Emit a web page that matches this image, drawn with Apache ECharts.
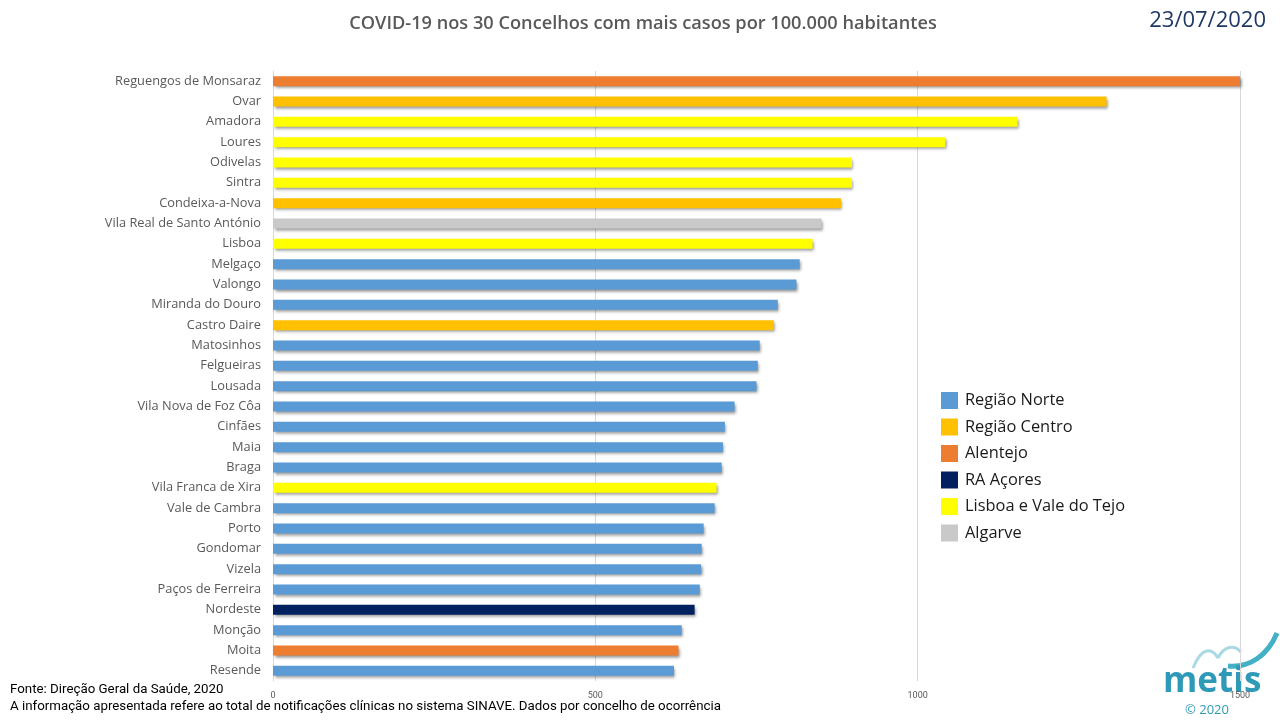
<!DOCTYPE html>
<html>
<head>
<meta charset="utf-8">
<script src="https://cdn.jsdelivr.net/npm/echarts@6/dist/echarts.min.js"></script>
<style>
html,body{margin:0;padding:0;background:#fff;}
#chart{width:1280px;height:720px;}
</style>
</head>
<body>
<div id="chart"></div>
<script>
const categories = ["Reguengos de Monsaraz","Ovar","Amadora","Loures","Odivelas","Sintra","Condeixa-a-Nova","Vila Real de Santo António","Lisboa","Melgaço","Valongo","Miranda do Douro","Castro Daire","Matosinhos","Felgueiras","Lousada","Vila Nova de Foz Côa","Cinfães","Maia","Braga","Vila Franca de Xira","Vale de Cambra","Porto","Gondomar","Vizela","Paços de Ferreira","Nordeste","Monção","Moita","Resende"];
const values = [1502,1293,1155,1043,898,898,881,851,837,817,812,783,777,755,752,750,716,701,698,696,688,685,668,665,664,662,654,634,629,622];
const regions = ["Alentejo","Região Centro","Lisboa e Vale do Tejo","Lisboa e Vale do Tejo","Lisboa e Vale do Tejo","Lisboa e Vale do Tejo","Região Centro","Algarve","Lisboa e Vale do Tejo","Região Norte","Região Norte","Região Norte","Região Centro","Região Norte","Região Norte","Região Norte","Região Norte","Região Norte","Região Norte","Região Norte","Lisboa e Vale do Tejo","Região Norte","Região Norte","Região Norte","Região Norte","Região Norte","RA Açores","Região Norte","Alentejo","Região Norte"];
const regionNames = ["Região Norte","Região Centro","Alentejo","RA Açores","Lisboa e Vale do Tejo","Algarve"];
const regionColors = ["#5b9bd5","#ffc000","#ed7d31","#002060","#ffff00","#c9c9c9"];
const xTicks = [0,500,1000,1500];

const series = regionNames.map((r,i)=>({
  name: r,
  type: 'bar',
  barWidth: 10,
  barGap: '-100%',
  itemStyle: {color: regionColors[i], shadowBlur: 3, shadowColor: 'rgba(0,0,0,0.45)', shadowOffsetX: 1.5, shadowOffsetY: 2},
  data: values.map((v,j)=> regions[j]===r ? v : '-')
}));

const chart = echarts.init(document.getElementById('chart'));
chart.setOption({
  animation: false,
  backgroundColor: '#fff',
  title: [{
    text: 'COVID-19 nos 30 Concelhos com mais casos por 100.000 habitantes',
    left: 638, top: 10, textAlign: 'center',
    textStyle: {fontFamily: 'Open Sans', fontWeight: 600, fontSize: 18.2, color: '#595959'}
  },{
    text: '23/07/2020',
    right: 9, top: 5,
    textStyle: {fontFamily: 'Open Sans', fontWeight: 'normal', fontSize: 22, color: '#1f3864'}
  }],
  legend: {
    orient: 'vertical', left: 936, top: 387,
    itemWidth: 17, itemHeight: 17, itemGap: 9.5,
    icon: 'rect',
    data: regionNames,
    itemStyle: {shadowBlur: 0, shadowOffsetX: 0, shadowOffsetY: 0},
    textStyle: {fontFamily: 'Open Sans', fontSize: 16.4, color: '#1a1a1a', padding: [0,0,0,2]}
  },
  grid: {left: 273, right: 40, top: 71, bottom: 39, containLabel: false},
  xAxis: {
    type: 'value', min: xTicks[0], max: xTicks[xTicks.length-1], interval: 500,
    axisLine: {show: false}, axisTick: {show: false},
    axisLabel: {fontFamily: 'Roboto', fontSize: 9, color: '#595959', margin: 10, formatter: v => String(v)},
    splitLine: {lineStyle: {color: '#d9d9d9', width: 1}}
  },
  yAxis: {
    type: 'category', data: categories, inverse: true,
    axisLine: {show: true, lineStyle: {color: '#d9d9d9'}}, axisTick: {show: false},
    axisLabel: {fontFamily: 'Open Sans', fontSize: 12.8, color: '#595959', margin: 12}
  },
  series: series,
  graphic: [
    {type: 'text', left: 10, top: 683, style: {text: 'Fonte: Direção Geral da Saúde, 2020', font: '13.3px Roboto', fill: '#000'}},
    {type: 'text', left: 10, top: 700, style: {text: 'A informação apresentada refere ao total de notificações clínicas no sistema SINAVE. Dados por concelho de ocorrência', font: '13.3px Roboto', fill: '#000'}},
    {type: 'bezierCurve', shape: {x1: 1193, y1: 668, cpx1: 1202, cpy1: 646, cpx2: 1212, cpy2: 648, x2: 1218, y2: 658}, style: {stroke: '#a9d9e3', lineWidth: 3, fill: null}},
    {type: 'bezierCurve', shape: {x1: 1218, y1: 658, cpx1: 1224, cpy1: 646, cpx2: 1234, cpy2: 644, x2: 1241, y2: 652}, style: {stroke: '#a9d9e3', lineWidth: 3, fill: null}},
    {type: 'bezierCurve', shape: {x1: 1228, y1: 666, cpx1: 1250, cpy1: 668, cpx2: 1268, cpy2: 655, x2: 1277, y2: 633}, style: {stroke: '#44b0c6', lineWidth: 5, fill: null}},
    {type: 'text', left: 1163, top: 665, style: {text: 'metis', font: 'bold 35px "Open Sans"', fill: '#2e9ab8'}},
    {type: 'text', left: 1185, top: 704, style: {text: '© 2020', font: '13px "Open Sans"', fill: '#2e9ab8'}}
  ]
});
</script>
</body>
</html>
